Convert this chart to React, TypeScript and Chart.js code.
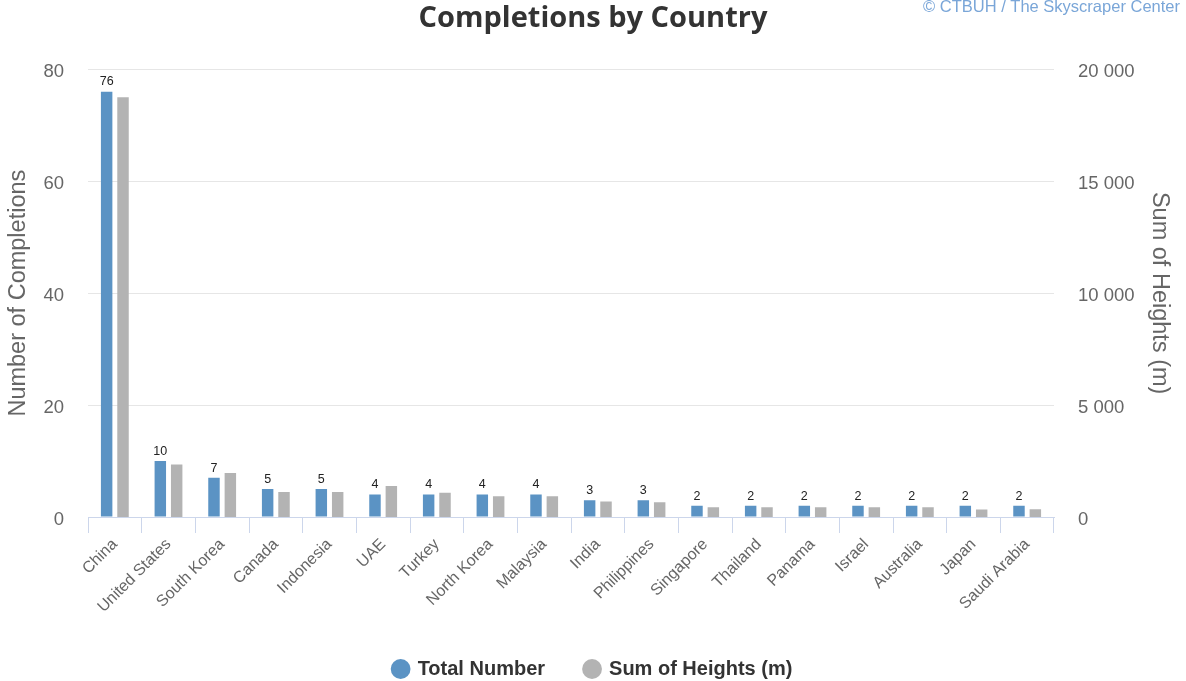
import React, { useEffect, useRef } from "react";
import { Chart, registerables } from "chart.js";

Chart.register(...registerables);

const countries = [
  "China", "United States", "South Korea", "Canada", "Indonesia", "UAE",
  "Turkey", "North Korea", "Malaysia", "India", "Philippines", "Singapore",
  "Thailand", "Panama", "Israel", "Australia", "Japan", "Saudi Arabia",
];

const totalNumber = [76, 10, 7, 5, 5, 4, 4, 4, 4, 3, 3, 2, 2, 2, 2, 2, 2, 2];

const sumOfHeights = [
  18750, 2350, 1970, 1120, 1120, 1380, 1080, 930, 930, 690, 660, 430, 430,
  430, 430, 430, 335, 350,
];

const leftTicks = [0, 20, 40, 60, 80];
const rightTicks = [0, 5000, 10000, 15000, 20000];

const BLUE = "#5b93c4";
const GRAY = "#b3b3b3";
const TEXT = "#666666";
const AXIS_LINE = "#ccd6eb";
const SANS = "'Liberation Sans', Arial, sans-serif";

const formatThousands = (v: number) =>
  String(v).replace(/\B(?=(\d{3})+(?!\d))/g, " ");

// Value labels above the blue bars and the credit line in the top-right corner
const extrasPlugin = {
  id: "extras",
  afterDatasetsDraw(chart: any) {
    const { ctx } = chart;
    const meta = chart.getDatasetMeta(0);
    ctx.save();
    ctx.font = `12.5px ${SANS}`;
    ctx.fillStyle = "#222222";
    ctx.textAlign = "center";
    ctx.textBaseline = "bottom";
    meta.data.forEach((bar: any, i: number) => {
      ctx.fillText(String(totalNumber[i]), bar.x, bar.y - 3.5);
    });
    ctx.restore();
  },
  afterDraw(chart: any) {
    const { ctx, width } = chart;
    ctx.save();
    ctx.font = `16.5px ${SANS}`;
    ctx.fillStyle = "#7aa6d8";
    ctx.textAlign = "right";
    ctx.textBaseline = "top";
    ctx.fillText("© CTBUH / The Skyscraper Center", width - 6, -1);
    ctx.restore();
  },
};

export default function App() {
  const canvasRef = useRef<HTMLCanvasElement | null>(null);

  useEffect(() => {
    if (!canvasRef.current) return;
    const chart = new Chart(canvasRef.current, {
      type: "bar",
      data: {
        labels: countries,
        datasets: [
          {
            label: "Total Number",
            data: totalNumber,
            backgroundColor: BLUE,
            yAxisID: "y",
            barPercentage: 0.7,
            categoryPercentage: 0.61,
          },
          {
            label: "Sum of Heights (m)",
            data: sumOfHeights,
            backgroundColor: GRAY,
            yAxisID: "y1",
            barPercentage: 0.7,
            categoryPercentage: 0.61,
          },
        ],
      },
      options: {
        animation: false,
        responsive: true,
        maintainAspectRatio: false,
        layout: { padding: { left: 0, right: 0, top: 0, bottom: -8 } },
        plugins: {
          title: {
            display: true,
            text: "Completions by Country",
            color: "#333333",
            font: { family: "'Open Sans', sans-serif", size: 29, weight: "bold" },
            padding: { top: 1, bottom: 33.5 },
          },
          legend: {
            display: true,
            position: "bottom",
            labels: {
              usePointStyle: true,
              pointStyle: "circle",
              boxWidth: 14,
              boxHeight: 14,
              padding: 40,
              color: "#333333",
              font: { family: SANS, size: 20, weight: "bold" },
            },
          },
          tooltip: { enabled: false },
        },
        scales: {
          x: {
            afterFit(scale: any) {
              scale.height = 102;
            },
            grid: {
              display: true,
              drawOnChartArea: false,
              drawTicks: true,
              tickLength: 16,
              color: AXIS_LINE,
              offset: true,
            },
            border: { display: true, color: AXIS_LINE },
            ticks: {
              color: TEXT,
              minRotation: 45,
              maxRotation: 45,
              autoSkip: false,
              padding: 2,
              font: { family: SANS, size: 16 },
            },
          },
          y: {
            position: "left",
            min: 0,
            max: 80,
            afterFit(scale: any) {
              scale.width = 88;
            },
            afterBuildTicks(scale: any) {
              scale.ticks = leftTicks.map((v) => ({ value: v }));
            },
            grid: { color: "#e6e6e6", drawTicks: false },
            border: { display: false },
            ticks: {
              color: TEXT,
              padding: 24,
              labelOffset: 2.5,
              font: { family: SANS, size: 18.5 },
            },
            title: {
              display: true,
              text: "Number of Completions",
              color: TEXT,
              font: { family: SANS, size: 23.5 },
              padding: { top: 4, bottom: 0 },
            },
          },
          y1: {
            position: "right",
            min: 0,
            max: 20000,
            afterFit(scale: any) {
              scale.width = 132;
            },
            afterBuildTicks(scale: any) {
              scale.ticks = rightTicks.map((v) => ({ value: v }));
            },
            grid: { display: false, drawTicks: false },
            border: { display: false },
            ticks: {
              color: TEXT,
              padding: 24,
              labelOffset: 2.5,
              font: { family: SANS, size: 18.5 },
              callback: (v: any) => formatThousands(Number(v)),
            },
            title: {
              display: true,
              text: "Sum of Heights (m)",
              color: TEXT,
              font: { family: SANS, size: 23.5 },
              padding: { top: 12, bottom: 0 },
            },
          },
        },
      },
      plugins: [extrasPlugin],
    } as any);
    return () => chart.destroy();
  }, []);

  return (
    <div
      style={{
        position: "fixed",
        left: 0,
        top: 0,
        width: 1186,
        height: 681,
        background: "#ffffff",
      }}
    >
      <canvas ref={canvasRef} />
    </div>
  );
}
